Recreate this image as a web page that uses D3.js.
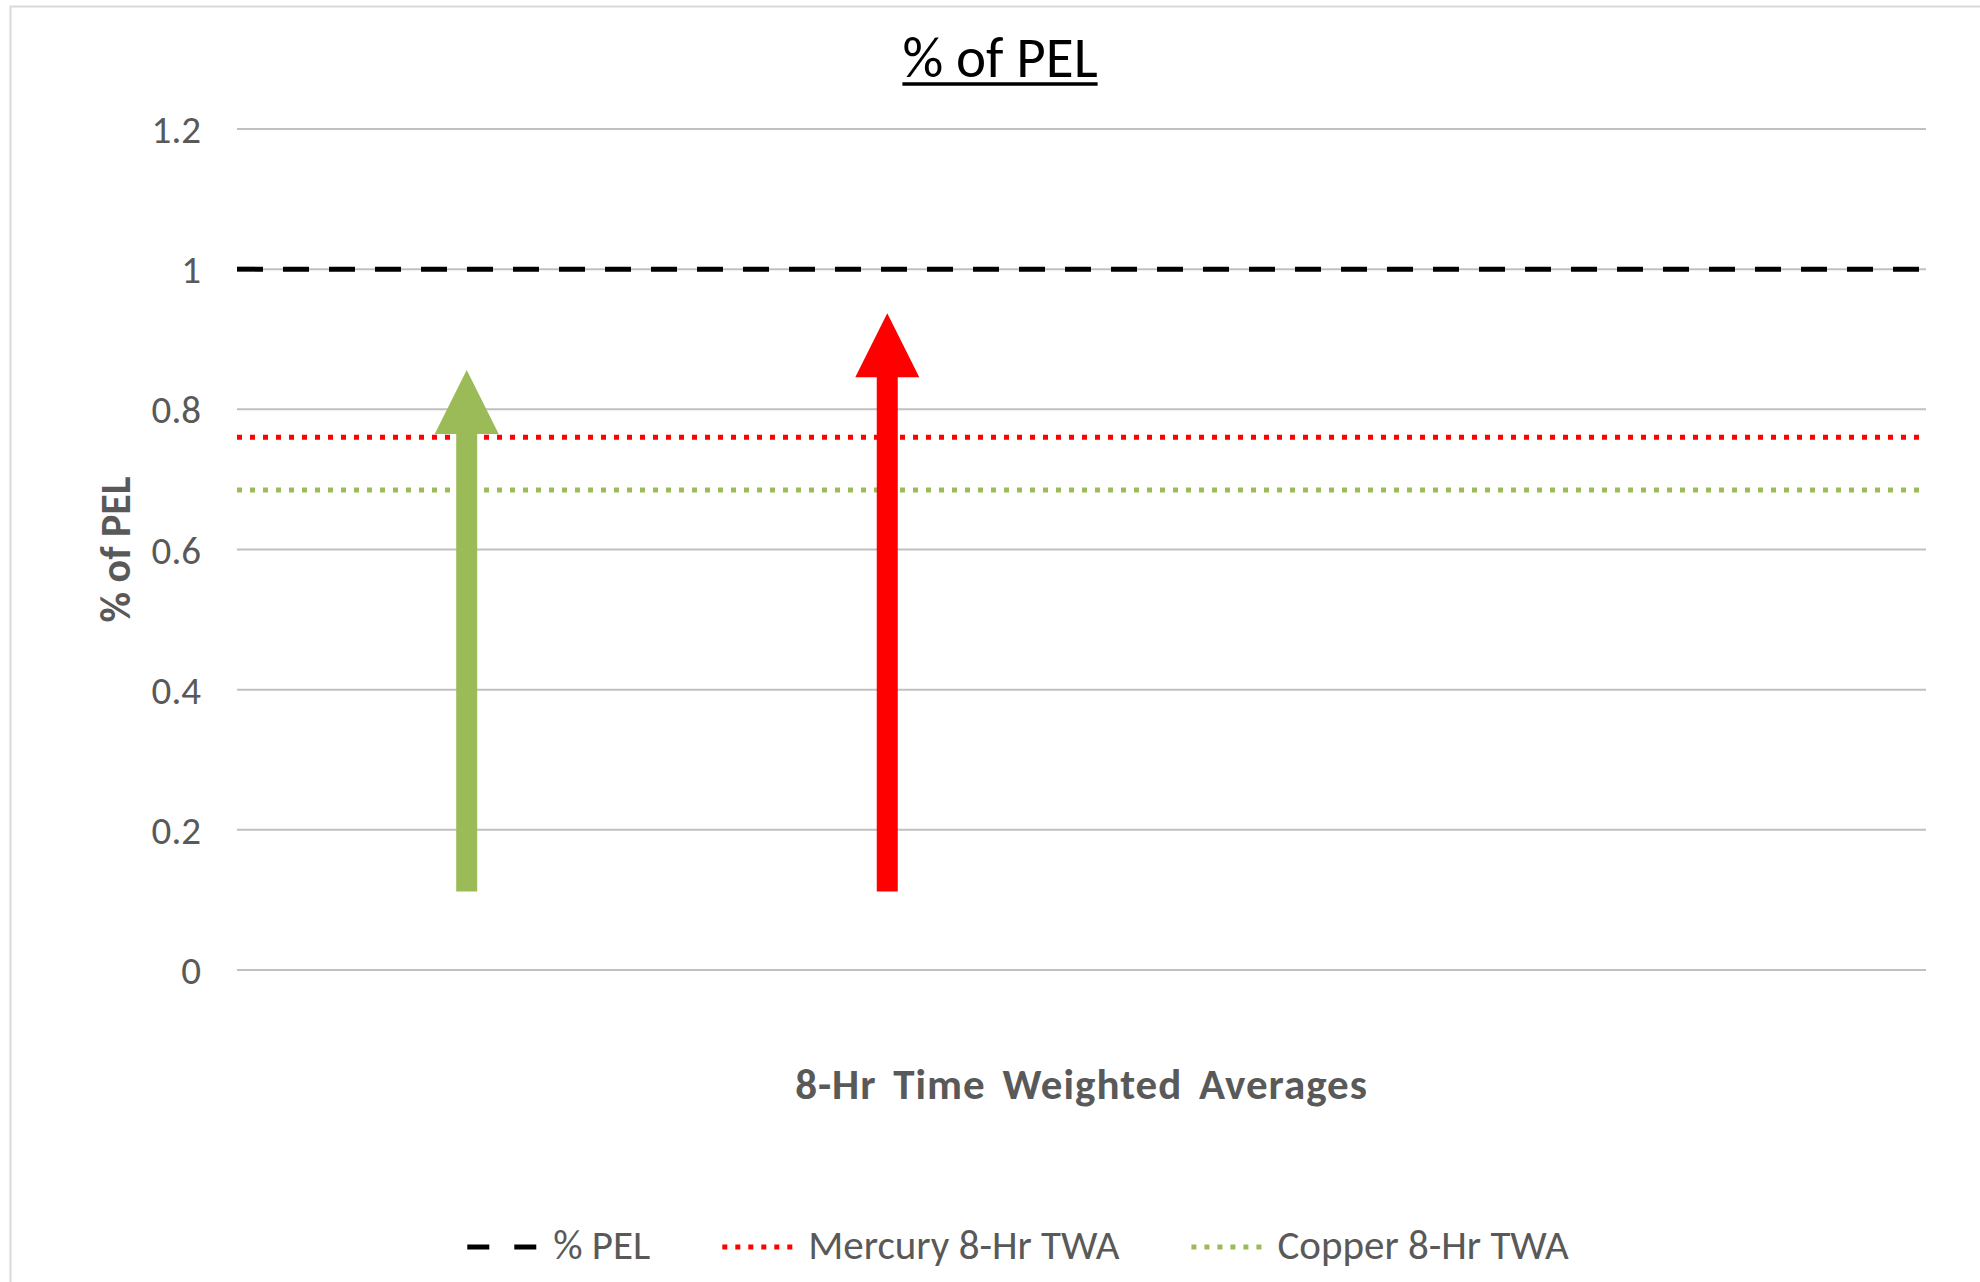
<!DOCTYPE html>
<html>
<head>
<meta charset="utf-8">
<script src="https://cdn.jsdelivr.net/npm/d3@7"></script>
<style>
    body { margin: 0; background: #fff; }
    svg { display: block; }
</style>
</head>
<body>
<div id="chart"></div>
<script>
// chart data
const yTicks = [0, 0.2, 0.4, 0.6, 0.8, 1, 1.2];
const seriesNames = ["% PEL", "Mercury 8-Hr TWA", "Copper 8-Hr TWA"];
const seriesValues = [1, 0.76, 0.685];
const seriesColors = ["#000000", "#ff0000", "#9bbb59"];

// annotation arrows (x as fraction of plot width, y in chart units)
const arrowX = [0.136, 0.385];
const arrowFrom = [0.112, 0.112];
const arrowTo = [0.856, 0.937];
const arrowColors = ["#9bbb59", "#ff0000"];

const titleText = "% of PEL";
const yTitleText = "% of PEL";
const xTitleText = "8-Hr Time Weighted Averages";

function drawChart(target) {
    let width = 1980;
    let height = 1282;
    const font = "Carlito, Calibri, Lato, sans-serif";
    const textGray = "#595959";

    const svg = d3.select(target).append("svg")
        .attr("width", width)
        .attr("height", height);

    svg.append("rect")
        .attr("width", width)
        .attr("height", height)
        .attr("fill", "#fff");

    // chart area border (only top and left are in view)
    svg.append("rect")
        .attr("x", 10.5)
        .attr("y", 6.5)
        .attr("width", 2100)
        .attr("height", 2100)
        .attr("fill", "none")
        .attr("stroke", "#d9d9d9")
        .attr("stroke-width", 2);

    let plot = {left: 237, right: 1926, top: 129, bottom: 970};

    let x = d3.scaleLinear().domain([0, 1]).range([plot.left, plot.right]);
    let y = d3.scaleLinear().domain([0, 1.2]).range([plot.bottom, plot.top]);

    // gridlines
    svg.selectAll(".grid")
        .data(yTicks)
        .join("line")
        .attr("class", "grid")
        .attr("x1", plot.left)
        .attr("x2", plot.right)
        .attr("y1", d => y(d))
        .attr("y2", d => y(d))
        .attr("stroke", "#c0c0c0")
        .attr("stroke-width", 2);

    // tick labels
    svg.selectAll(".ticklabel")
        .data(yTicks)
        .join("text")
        .attr("class", "ticklabel")
        .attr("x", 201)
        .attr("y", d => y(d))
        .attr("dy", "0.36em")
        .attr("text-anchor", "end")
        .attr("font-family", font)
        .attr("font-size", 39)
        .attr("fill", textGray)
        .text(d => d3.format("~g")(d));

    // series lines
    let dashes = ["26,20", "5,8", "5,8"];
    let line = d3.line()
        .x(d => x(d.x))
        .y(d => y(d.y));

    svg.selectAll(".series")
        .data(seriesValues)
        .join("path")
        .attr("class", "series")
        .datum(d => [{x: 0, y: d}, {x: 1, y: d}])
        .attr("d", line)
        .attr("fill", "none")
        .attr("stroke", (_, i) => seriesColors[i])
        .attr("stroke-width", 5)
        .attr("stroke-dasharray", (_, i) => dashes[i]);

    // arrows
    let shaftW = 21, headW = 64, headH = 64;
    arrowX.forEach((ax, i) => {
        let cx = x(ax);
        let yb = y(arrowFrom[i]);
        let yt = y(arrowTo[i]);
        let pts = [
            [cx - shaftW / 2, yb],
            [cx - shaftW / 2, yt + headH],
            [cx - headW / 2, yt + headH],
            [cx, yt],
            [cx + headW / 2, yt + headH],
            [cx + shaftW / 2, yt + headH],
            [cx + shaftW / 2, yb]
        ];
        svg.append("path")
            .attr("d", d3.line()(pts) + "Z")
            .attr("fill", arrowColors[i]);
    });

    // title with underline
    let title = svg.append("text")
        .attr("x", 1000)
        .attr("y", 77)
        .attr("text-anchor", "middle")
        .attr("font-family", font)
        .attr("font-size", 57)
        .attr("fill", "#000")
        .text(titleText);
    let tw = title.node().getComputedTextLength();
    svg.append("line")
        .attr("x1", 1000 - tw / 2)
        .attr("x2", 1000 + tw / 2)
        .attr("y1", 84)
        .attr("y2", 84)
        .attr("stroke", "#000")
        .attr("stroke-width", 3.5);

    // axis titles
    svg.append("text")
        .attr("transform", `translate(130,${(plot.top + plot.bottom) / 2}) rotate(-90)`)
        .attr("text-anchor", "middle")
        .attr("font-family", font)
        .attr("font-weight", "bold")
        .attr("font-size", 42)
        .attr("fill", textGray)
        .text(yTitleText);

    svg.append("text")
        .attr("x", (plot.left + plot.right) / 2)
        .attr("y", 1099)
        .attr("text-anchor", "middle")
        .attr("font-family", font)
        .attr("font-weight", "bold")
        .attr("font-size", 43)
        .attr("letter-spacing", 1)
        .attr("word-spacing", 6)
        .attr("fill", textGray)
        .text(xTitleText);

    // legend
    let legendDashes = ["22,25", "5,8", "5,8"];
    let symLen = 72, symGap = 14, itemGap = 72;
    let legend = svg.append("g");
    let cursor = 0;
    seriesNames.forEach((name, i) => {
        let g = legend.append("g").attr("transform", `translate(${cursor},0)`);
        g.append("line")
            .attr("x1", 0)
            .attr("x2", symLen)
            .attr("y1", 1247)
            .attr("y2", 1247)
            .attr("stroke", seriesColors[i])
            .attr("stroke-width", 5)
            .attr("stroke-dasharray", legendDashes[i]);
        let t = g.append("text")
            .attr("x", symLen + symGap)
            .attr("y", 1259)
            .attr("font-family", font)
            .attr("font-size", 41)
            .attr("fill", textGray)
            .text(name);
        cursor += symLen + symGap + t.node().getComputedTextLength() + itemGap;
    });
    let total = cursor - itemGap;
    legend.attr("transform", `translate(${1018 - total / 2},0)`);
}

drawChart("#chart");
</script>
</body>
</html>
